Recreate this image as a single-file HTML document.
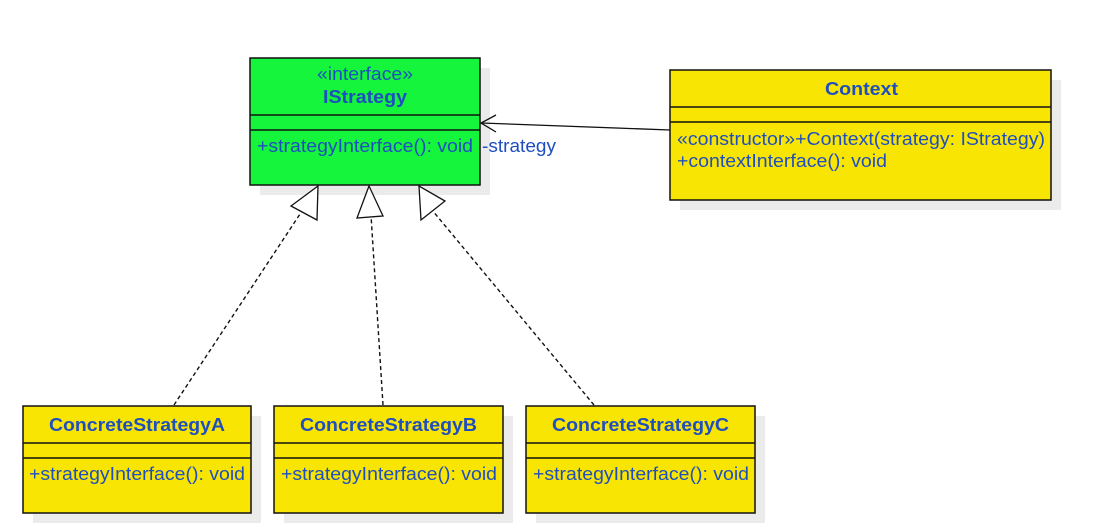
<!DOCTYPE html>
<html><head><meta charset="utf-8"><style>
html,body{margin:0;padding:0;background:#fff;width:1104px;height:531px;overflow:hidden}
text{font-family:"Liberation Sans",sans-serif;fill:#1f4fbf;font-size:18px}
.b{font-weight:bold}
</style></head><body>
<svg width="1104" height="531" viewBox="0 0 1104 531" xmlns="http://www.w3.org/2000/svg">
<g fill="#ebebeb">
<rect x="260" y="68" width="230" height="127"/>
<rect x="680" y="80" width="381" height="130"/>
<rect x="33" y="416" width="228" height="107"/>
<rect x="284" y="416" width="229" height="107"/>
<rect x="536" y="416" width="229" height="107"/>
</g>
<rect x="250" y="58" width="230" height="127" fill="#14f53c" stroke="#111" stroke-width="1.5"/>
<line x1="250" y1="115" x2="480" y2="115" stroke="#111" stroke-width="1.5"/>
<line x1="250" y1="130" x2="480" y2="130" stroke="#111" stroke-width="1.5"/>
<text x="317" y="80" textLength="96" lengthAdjust="spacingAndGlyphs">«interface»</text>
<text x="323" y="103" class="b" textLength="84" lengthAdjust="spacingAndGlyphs">IStrategy</text>
<text x="257" y="152" textLength="216" lengthAdjust="spacingAndGlyphs">+strategyInterface(): void</text>
<text x="482" y="152" textLength="74" lengthAdjust="spacingAndGlyphs">-strategy</text>
<rect x="670" y="70" width="381" height="130" fill="#f9e504" stroke="#111" stroke-width="1.5"/>
<line x1="670" y1="107" x2="1051" y2="107" stroke="#111" stroke-width="1.5"/>
<line x1="670" y1="122" x2="1051" y2="122" stroke="#111" stroke-width="1.5"/>
<text x="825" y="95" class="b" textLength="73" lengthAdjust="spacingAndGlyphs">Context</text>
<text x="677" y="145" textLength="368" lengthAdjust="spacingAndGlyphs">«constructor»+Context(strategy: IStrategy)</text>
<text x="677" y="167" textLength="210" lengthAdjust="spacingAndGlyphs">+contextInterface(): void</text>
<line x1="670" y1="130" x2="481" y2="123" stroke="#111" stroke-width="1.3"/>
<polyline points="496,115 481,123 496,132" fill="none" stroke="#111" stroke-width="1.3"/>
<g stroke="#111" stroke-width="1.5" fill="#f9e504">
<rect x="23" y="406" width="228" height="107"/>
<rect x="274" y="406" width="229" height="107"/>
<rect x="526" y="406" width="229" height="107"/>
<line x1="23" y1="443" x2="251" y2="443"/><line x1="23" y1="458" x2="251" y2="458"/>
<line x1="274" y1="443" x2="503" y2="443"/><line x1="274" y1="458" x2="503" y2="458"/>
<line x1="526" y1="443" x2="755" y2="443"/><line x1="526" y1="458" x2="755" y2="458"/>
</g>
<text x="49" y="431" class="b" textLength="176" lengthAdjust="spacingAndGlyphs">ConcreteStrategyA</text>
<text x="300" y="431" class="b" textLength="177" lengthAdjust="spacingAndGlyphs">ConcreteStrategyB</text>
<text x="552" y="431" class="b" textLength="177" lengthAdjust="spacingAndGlyphs">ConcreteStrategyC</text>
<text x="29" y="480" textLength="216" lengthAdjust="spacingAndGlyphs">+strategyInterface(): void</text>
<text x="281" y="480" textLength="216" lengthAdjust="spacingAndGlyphs">+strategyInterface(): void</text>
<text x="533" y="480" textLength="216" lengthAdjust="spacingAndGlyphs">+strategyInterface(): void</text>
<g stroke="#111" stroke-width="1.4" stroke-dasharray="4,3" fill="none">
<line x1="174" y1="405" x2="304" y2="208"/>
<line x1="383" y1="405" x2="371" y2="215"/>
<line x1="594" y1="405" x2="432" y2="210"/>
</g>
<g stroke="#111" stroke-width="1.3" fill="#fff">
<polygon points="318,186 291,206 317,220"/>
<polygon points="369,186 357,218 383,216"/>
<polygon points="419,186 421,220 445,201"/>
</g>
</svg>
</body></html>
